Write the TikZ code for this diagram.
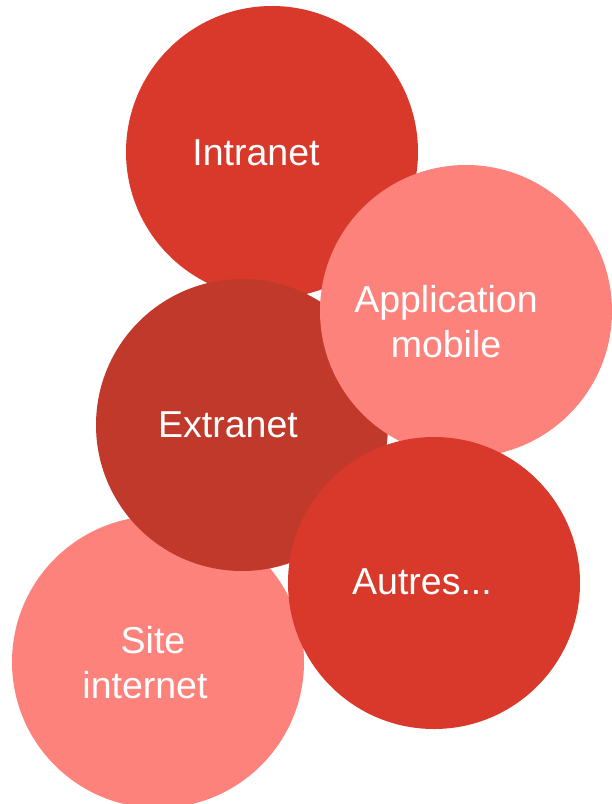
\documentclass[tikz,border=0pt]{standalone}
\usepackage{fontspec}
\setmainfont{Liberation Sans}
\definecolor{rouge}{HTML}{D9392B}
\definecolor{brique}{HTML}{C0392B}
\definecolor{saumon}{HTML}{FD827C}

\begin{document}
\begin{tikzpicture}[x=1pt, y=-1pt,
  bulle/.style={circle, minimum size=292pt, inner sep=0pt},
  titre/.style={text=white, font=\fontsize{37.5}{45}\selectfont, align=center}]
\useasboundingbox (0,0) rectangle (612,804);
% bulles, de la plus basse a la plus haute
\node[bulle, fill=rouge]  (intra) at (272,152) {};
\node[bulle, fill=saumon] (site)  at (158,662) {};
\node[bulle, fill=brique] (extra) at (242,425) {};
\node[bulle, fill=saumon] (appli) at (466,311) {};
\node[bulle, fill=rouge]  (autre) at (434,583) {};
% textes
\node[titre] (tintra) at (256,153) {Intranet};
\node[titre] (tsite)  at (145,663) {\hspace*{16pt}Site\\internet};
\node[titre] (textra) at (228,425) {Extranet};
\node[titre] (tappli) at (446,322) {Application\\mobile};
\node[titre] (tautre) at (422,582) {Autres...};
\end{tikzpicture}
\end{document}
